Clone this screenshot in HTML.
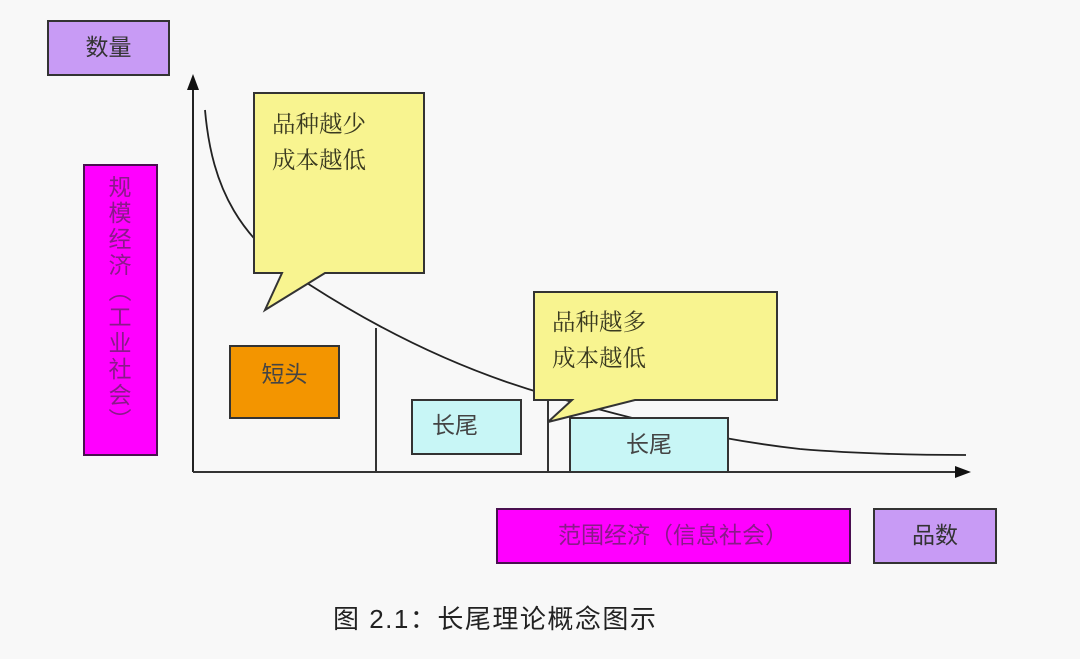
<!DOCTYPE html>
<html><head><meta charset="utf-8"><style>
html,body{margin:0;padding:0;background:#f8f8f8;width:1080px;height:659px;overflow:hidden}
svg{display:block}
text{font-family:"Liberation Sans","Noto Sans CJK SC",sans-serif}
.s{font-family:"Liberation Serif","Noto Serif CJK SC",serif}
</style></head><body>
<svg width="1080" height="659" viewBox="0 0 1080 659" xmlns="http://www.w3.org/2000/svg">
<rect width="1080" height="659" fill="#f8f8f8"/>
<line x1="193" y1="86" x2="193" y2="472" stroke="#222" stroke-width="2"/>
<polygon points="193,74 187,90 199,90" fill="#111"/>
<line x1="193" y1="472" x2="958" y2="472" stroke="#333" stroke-width="2"/>
<polygon points="971,472 955,466 955,478" fill="#111"/>
<path d="M205,110 C212,190 240,240 310,285 C380,330 460,370 548,395 C640,422 720,440 800,449 C860,454 920,455 966,455" fill="none" stroke="#222" stroke-width="1.8"/>
<line x1="376" y1="328" x2="376" y2="472" stroke="#333" stroke-width="2"/>
<line x1="548" y1="396" x2="548" y2="472" stroke="#333" stroke-width="2"/>
<path d="M254,93 H424 V273 H325 L265,310 L282,273 H254 Z" fill="#f8f490" stroke="#333" stroke-width="2"/>
<text class="s" x="272" y="132" font-size="23.5" fill="#3a3a20">品种越少</text>
<text class="s" x="272" y="168" font-size="23.5" fill="#3a3a20">成本越低</text>
<rect x="230" y="346" width="109" height="72" fill="#f39500" stroke="#333" stroke-width="2"/>
<text x="284.5" y="376" font-size="23" fill="#444" text-anchor="middle" dominant-baseline="middle">短头</text>
<rect x="412" y="400" width="109" height="54" fill="#c8f6f6" stroke="#333" stroke-width="2"/>
<text x="455" y="427" font-size="23" fill="#444" text-anchor="middle" dominant-baseline="middle">长尾</text>
<rect x="570" y="418" width="158" height="54" fill="#c8f6f6" stroke="#333" stroke-width="2"/>
<text x="649" y="446" font-size="23" fill="#444" text-anchor="middle" dominant-baseline="middle">长尾</text>
<path d="M534,292 H777 V400 H635 L548,422 L572,400 H534 Z" fill="#f8f490" stroke="#333" stroke-width="2"/>
<text class="s" x="552" y="330" font-size="23.5" fill="#3a3a20">品种越多</text>
<text class="s" x="552" y="366" font-size="23.5" fill="#3a3a20">成本越低</text>
<rect x="48" y="21" width="121" height="54" fill="#c89bf5" stroke="#333" stroke-width="2"/>
<text x="108.5" y="49" font-size="23" fill="#333" text-anchor="middle" dominant-baseline="middle">数量</text>
<rect x="84" y="165" width="73" height="290" fill="#ff00ff" stroke="#4a1050" stroke-width="2"/>
<g font-size="23" fill="#8a1a8a" text-anchor="middle">
<text x="120" y="195">规</text><text x="120" y="221">模</text><text x="120" y="247">经</text><text x="120" y="273">济</text>
<text x="120" y="299">︵</text>
<text x="120" y="325">工</text><text x="120" y="351">业</text><text x="120" y="377">社</text><text x="120" y="403">会</text>
<text x="120" y="428">︶</text>
</g>
<rect x="497" y="509" width="353" height="54" fill="#ff00ff" stroke="#4a1050" stroke-width="2"/>
<text x="673" y="537" font-size="23" fill="#8a1a8a" text-anchor="middle" dominant-baseline="middle">范围经济（信息社会）</text>
<rect x="874" y="509" width="122" height="54" fill="#c89bf5" stroke="#333" stroke-width="2"/>
<text x="935" y="537" font-size="23" fill="#333" text-anchor="middle" dominant-baseline="middle">品数</text>
<text x="333" y="628" font-size="26" fill="#222" letter-spacing="1.5">图 2.1：长尾理论概念图示</text>
</svg>
</body></html>
